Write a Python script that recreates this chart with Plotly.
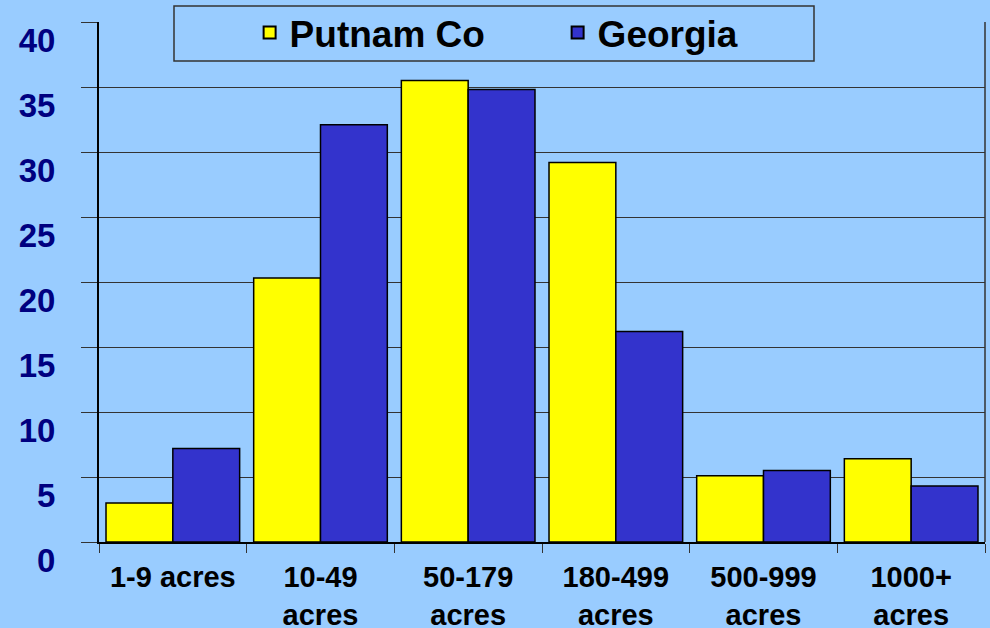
import plotly.graph_objects as go

categories = ["1-9 acres", "10-49<br>acres", "50-179<br>acres", "180-499<br>acres", "500-999<br>acres", "1000+<br>acres"]
putnam = [3.0, 20.3, 35.5, 29.2, 5.1, 6.4]
georgia = [7.2, 32.1, 34.8, 16.2, 5.5, 4.3]
y_ticks = [0, 5, 10, 15, 20, 25, 30, 35, 40]

BG = "#99CCFF"
FONT = "Liberation Sans, Arial, sans-serif"

fig = go.Figure()
fig.add_trace(go.Bar(name="Putnam Co", x=categories, y=putnam,
                     marker=dict(color="#FFFF00", line=dict(color="#000000", width=1.5))))
fig.add_trace(go.Bar(name="Georgia", x=categories, y=georgia,
                     marker=dict(color="#3333CC", line=dict(color="#000000", width=1.5))))

fig.update_layout(
    width=990, height=628,
    margin=dict(l=99, r=5, t=22, b=86, autoexpand=False),
    paper_bgcolor=BG, plot_bgcolor=BG,
    barmode="group", bargap=0.095, bargroupgap=0,
    font=dict(family=FONT, color="#000000"),
    showlegend=True,
    legend=dict(orientation="h", x=0.17, xanchor="left", y=0.979, yanchor="middle",
                bgcolor="rgba(0,0,0,0)", borderwidth=0,
                font=dict(family=FONT, size=37, color="#000000", weight="bold"),
                entrywidth=263, itemsizing="constant"),
    shapes=[
        dict(type="rect", xref="paper", yref="paper",
             x0=(174 - 99) / 886, x1=(814 - 99) / 886,
             y0=(542 - 61) / 520, y1=(542 - 6) / 520,
             fillcolor=BG, line=dict(color="#333333", width=1.5), layer="above"),
        dict(type="line", xref="paper", yref="paper", x0=1, x1=1, y0=0, y1=1,
             line=dict(color="#333333", width=1.5), layer="above"),
    ],
)

fig.update_yaxes(
    range=[0, 40], tickvals=y_ticks, ticktext=[str(v) for v in y_ticks],
    showgrid=True, gridcolor="#333333", gridwidth=1,
    showline=True, linecolor="#000000", linewidth=2,
    ticks="outside", ticklen=16, tickcolor="#333333", tickwidth=1,
    tickfont=dict(family=FONT, size=33, color="#000080", weight="bold"),
    ticklabelstandoff=19, ticklabelshift=18, ticklabeloverflow="allow",
    zeroline=False, automargin=False,
)
fig.update_xaxes(
    showline=True, linecolor="#000000", linewidth=2,
    ticks="outside", tickson="boundaries", ticklen=9, tickcolor="#333333", tickwidth=1,
    tickfont=dict(family=FONT, size=29, color="#000000", weight="bold"),
    ticklabelstandoff=8, ticklabeloverflow="allow",
    showgrid=False, automargin=False,
)

fig.write_html("out.html", config={"displayModeBar": False},
               post_script="document.body.style.margin='0';document.body.style.overflow='hidden';")
